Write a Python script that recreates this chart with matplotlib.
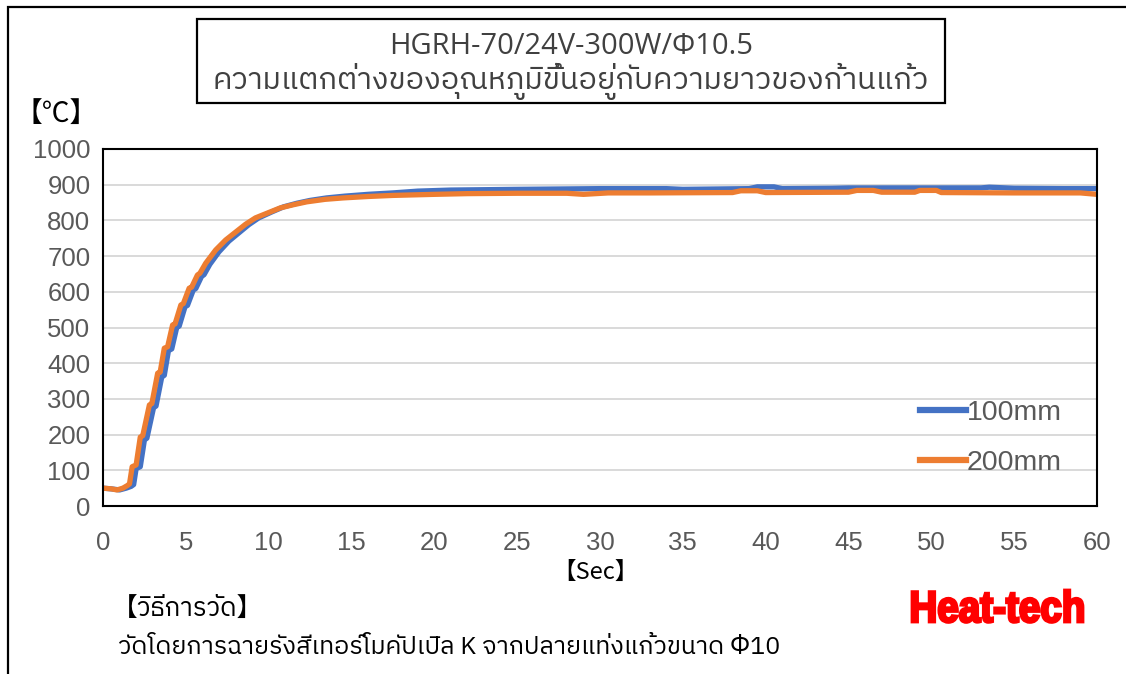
import numpy as np
import matplotlib
matplotlib.use('Agg')
import matplotlib.pyplot as plt
from matplotlib import font_manager
from matplotlib.ft2font import FT2Font
from matplotlib.patches import Rectangle, PathPatch
from matplotlib.textpath import TextPath
from matplotlib.font_manager import FontProperties
from matplotlib.transforms import Affine2D

# data (time in s, temperature in degC)
t_100 = [0, 0.5, 1.0, 1.4, 1.7, 1.85, 2.0, 2.25, 2.5, 2.65,
         3.05, 3.2, 3.55, 3.7, 3.95, 4.15, 4.45, 4.6, 4.95, 5.1,
         5.45, 5.6, 5.95, 6.1, 6.45, 7.0, 7.6, 8.2, 8.8, 9.4,
         10.2, 10.9, 11.7, 12.5, 13.5, 14.6, 16, 17.5, 19, 21,
         25, 30, 34, 35, 39, 39.5, 40.5, 41, 44, 45,
         50, 53, 53.5, 55, 58, 60]
T_100 = [50, 48, 45, 50, 55, 60, 105, 110, 185, 190,
         275, 280, 362, 366, 435, 440, 500, 504, 558, 562,
         605, 609, 643, 648, 677, 712, 742, 765, 788, 807,
         824, 838, 848, 856, 863, 868, 873, 877, 882, 885,
         887, 889, 889, 887, 889, 894, 894, 889, 890, 891,
         891, 891, 893, 890, 889, 889]

t_200 = [0, 0.5, 0.85, 1.2, 1.46, 1.6, 1.76, 2.0, 2.25, 2.4,
         2.8, 2.95, 3.3, 3.45, 3.7, 3.9, 4.2, 4.35, 4.7, 4.85,
         5.2, 5.35, 5.7, 5.85, 6.2, 6.8, 7.4, 8.0, 8.6, 9.2,
         10.0, 10.7, 11.5, 12.3, 13.4, 14.5, 16, 17.5, 20, 22,
         25, 28, 29, 30.5, 33, 38, 38.5, 39.5, 40, 45,
         45.5, 46.5, 47, 49, 49.3, 50.3, 50.6, 55, 59, 60]
T_200 = [50, 48, 45, 50, 57, 62, 110, 115, 193, 197,
         283, 287, 372, 375, 442, 446, 507, 510, 563, 567,
         610, 613, 647, 652, 680, 717, 745, 767, 789, 807,
         822, 835, 844, 852, 859, 863, 867, 870, 873, 875,
         876, 876, 873, 877, 877, 878, 883, 883, 878, 879,
         884, 884, 879, 879, 884, 884, 878, 877, 877, 873]

labels = ['100mm', '200mm']
xticks = np.arange(0, 61, 5)
yticks = np.arange(0, 1001, 100)

title1 = 'HGRH-70/24V-300W/Φ10.5'
title2 = 'ความแตกต่างของอุณหภูมิขึ้นอยู่กับความยาวของก้านแก้ว'
note1 = '【วิธีการวัด】'
note2 = 'วัดโดยการฉายรังสีเทอร์โมคัปเปิล K จากปลายแท่งแก้วขนาด Φ10'


def thai_font():
    fl = sorted(font_manager.fontManager.ttflist,
                key=lambda f: ('Thai' not in f.name, f.weight != 400, f.name))
    for f in fl:
        try:
            if 0x0E01 in FT2Font(f.fname).get_charmap():
                return f.name
        except Exception:
            pass
    return 'DejaVu Sans'


th = thai_font()
thai_fam = [th, 'Noto Sans CJK JP', 'DejaVu Sans']
cjk_fam = ['Noto Sans CJK JP', 'DejaVu Sans']
W, H = 1126, 674

fig = plt.figure(figsize=(W/100, H/100), dpi=100)
ax = fig.add_axes([103/W, 1-506/H, 994/W, 357/H])

ax.plot(t_100, T_100, color='#4472C4', lw=3.8, label=labels[0], solid_joinstyle='round')
ax.plot(t_200, T_200, color='#ED7D31', lw=3.8, label=labels[1], solid_joinstyle='round')

ax.set_xlim(0, 60)
ax.set_ylim(0, 1000)
ax.set_xticks(xticks)
ax.set_yticks(yticks)
ax.grid(axis='y', color='#D9D9D9', lw=1.4)
ax.set_axisbelow(True)
for s in ax.spines.values():
    s.set_color('black')
    s.set_linewidth(1.5)
ax.tick_params(length=0, labelsize=18.5, labelcolor='#595959')
ax.tick_params(axis='x', pad=18)
ax.tick_params(axis='y', pad=9)
for lab in ax.get_xticklabels() + ax.get_yticklabels():
    lab.set_family('Liberation Sans')

leg = ax.legend(loc='center left', bbox_to_anchor=(0.822, 0.19), frameon=False,
                handlelength=1.6, handletextpad=0.05, labelspacing=0.85,
                borderpad=0, borderaxespad=0, prop={'family': 'Liberation Sans', 'size': 20.5})
for txt in leg.get_texts():
    txt.set_color('#595959')
for ln in leg.get_lines():
    ln.set_linewidth(4.5)

# title box
fig.patches.append(Rectangle((197/W, 1-103/H), 748/W, 84/H, transform=fig.transFigure,
                             fill=False, ec='black', lw=1.6))
fig.text(571/W, 1-47/H, title1, ha='center', va='center', fontsize=21,
         color='#404040', family=['Open Sans', 'DejaVu Sans'])
fig.text(571/W, 1-89/H, title2, ha='center', va='baseline', fontsize=22,
         color='#404040', family=thai_fam)

# outer frame
fig.patches.append(Rectangle((8/W, -0.1), 1.2, 1-7/H+0.1, transform=fig.transFigure,
                             fill=False, ec='black', lw=1.6))

fig.text(56/W, 1-114/H, '【℃】', ha='center', va='center', fontsize=20,
         color='black', family=cjk_fam)
fig.text(595/W, 1-572/H, '【Sec】', ha='center', va='center', fontsize=17,
         color='black', family=cjk_fam)
fig.text(112/W, 1-608/H, note1, ha='left', va='center', fontsize=18.5,
         color='black', family=thai_fam)
fig.text(118/W, 1-647/H, note2, ha='left', va='center', fontsize=18,
         color='black', family=thai_fam)

# logo: bold text squeezed into its box (pixel coords, origin bottom-left)
tp = TextPath((0, 0), 'Heat-tech', size=40,
              prop=FontProperties(family='Liberation Sans', weight='bold'))
ext = tp.get_extents()
x0, x1, ytop, ybase = 912, 1083, 590, 622
tr = (Affine2D().translate(-ext.x0, 0)
      .scale((x1-x0)/ext.width, (ybase-ytop)/ext.y1)
      .translate(x0, H-ybase))
fig.patches.append(PathPatch(tr.transform_path(tp), transform=None,
                             fc='#FF0000', ec='#FF0000', lw=2))

fig.savefig('out.png', dpi=100)
